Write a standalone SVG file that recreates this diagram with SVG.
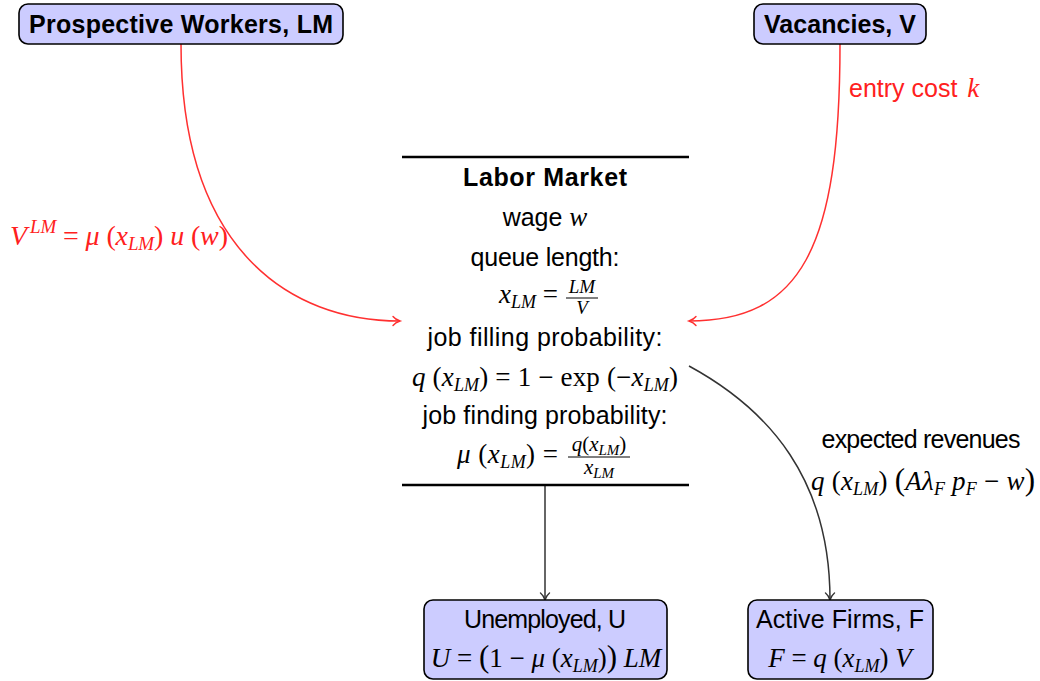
<svg xmlns="http://www.w3.org/2000/svg" width="1040" height="681" viewBox="0 0 1040 681">
<style>
.box{fill:#ccccff;stroke:#000;stroke-width:1.6}
.sans{font-family:"Liberation Sans","DejaVu Sans",sans-serif;font-size:25px}
.b{font-weight:bold}
.mi{font-family:"Liberation Serif","DejaVu Serif",serif;font-style:italic;font-size:27px}
.mr{font-family:"Liberation Serif","DejaVu Serif",serif;font-style:normal;font-size:27px}
.sub{font-size:18px}
.fr{font-size:19px}
.frs{font-size:14px}
.fr2{font-size:21px}
.frs2{font-size:15px}
.red{fill:#ff2020}
.c{text-anchor:middle}
.rule{stroke:#000;stroke-width:2.6}
.redc{fill:none;stroke:#ff3030;stroke-width:1.5}
.blkc{fill:none;stroke:#333;stroke-width:1.5}
</style>
<defs>
<marker id="ar" markerUnits="userSpaceOnUse" markerWidth="14" markerHeight="14" viewBox="-10 -7 14 14" refX="0" refY="0" orient="auto">
<path d="M-7,-4.5 C-5,-2 -1.5,-0.5 0,0 C-1.5,0.5 -5,2 -7,4.5" fill="none" stroke="#ff3030" stroke-width="1.4" stroke-linecap="round"/>
</marker>
<marker id="ak" markerUnits="userSpaceOnUse" markerWidth="14" markerHeight="14" viewBox="-10 -7 14 14" refX="0" refY="0" orient="auto">
<path d="M-7,-4.5 C-5,-2 -1.5,-0.5 0,0 C-1.5,0.5 -5,2 -7,4.5" fill="none" stroke="#333" stroke-width="1.4" stroke-linecap="round"/>
</marker>
</defs>
<rect width="1040" height="681" fill="#fff"/>

<g id="connectors">
<path class="redc" d="M181,44 C181,250 290,321 400,321" marker-end="url(#ar)"/>
<path class="redc" d="M840,44 C840,250 800,321 689,321" marker-end="url(#ar)"/>
<path class="blkc" d="M689,366 C770,410 830,480 830,600" marker-end="url(#ak)"/>
<path class="blkc" d="M545,486 L545,600" marker-end="url(#ak)"/>
<text class="red" x="10" y="245" textLength="218"><tspan class="mi" style="font-size:28px">V</tspan><tspan class="mi" style="font-size:19px" dx="3" dy="-12">LM</tspan><tspan class="mr" style="font-size:28px" dy="12"> = </tspan><tspan class="mi" style="font-size:28px">μ</tspan><tspan class="mr" style="font-size:28px"> (</tspan><tspan class="mi" style="font-size:28px">x</tspan><tspan class="mi" style="font-size:19px" dy="5">LM</tspan><tspan class="mr" style="font-size:28px" dy="-5">) </tspan><tspan class="mi" style="font-size:28px">u</tspan><tspan class="mr" style="font-size:28px"> (</tspan><tspan class="mi" style="font-size:28px">w</tspan><tspan class="mr" style="font-size:28px">)</tspan></text>
<text class="red" x="849" y="97"><tspan class="sans">entry cost </tspan><tspan class="mi" dx="3">k</tspan></text>
<text class="sans c" x="921" y="448" textLength="199">expected revenues</text>
<text class="c" x="923" y="490" textLength="224"><tspan class="mi">q</tspan><tspan class="mr"> (</tspan><tspan class="mi">x</tspan><tspan class="mi sub" dy="5">LM</tspan><tspan class="mr" dy="-5">) </tspan><tspan class="mr" style="font-size:31px">(</tspan><tspan class="mi">Aλ</tspan><tspan class="mi sub" dy="5">F</tspan><tspan class="mi" dy="-5"> p</tspan><tspan class="mi sub" dy="5">F</tspan><tspan class="mr" dy="-5"> − </tspan><tspan class="mi">w</tspan><tspan class="mr" style="font-size:31px">)</tspan></text>
</g>

<g id="prospective-workers">
<rect class="box" x="19" y="4" width="324" height="40" rx="9"/>
<text class="sans b c" x="181" y="33" textLength="304">Prospective Workers, LM</text>
</g>

<g id="vacancies">
<rect class="box" x="754" y="4" width="172" height="40" rx="9"/>
<text class="sans b c" x="840" y="33" textLength="152">Vacancies, V</text>
</g>

<g id="labor-market">
<line class="rule" x1="402" y1="157" x2="689" y2="157"/>
<line class="rule" x1="402" y1="485" x2="689" y2="485"/>
<text class="sans b c" x="545" y="186" textLength="164">Labor Market</text>
<text class="c" x="545" y="226"><tspan class="sans">wage </tspan><tspan class="mi">w</tspan></text>
<text class="sans c" x="545" y="266" textLength="149">queue length:</text>
<text x="558" y="303" text-anchor="end"><tspan class="mi">x</tspan><tspan class="mi sub" dy="5">LM</tspan><tspan class="mr" dy="-5"> =</tspan></text>
<text class="mi fr c" x="582" y="293">LM</text>
<line x1="566" y1="298" x2="598" y2="298" stroke="#000" stroke-width="1"/>
<text class="mi fr c" x="582" y="314">V</text>
<text class="sans c" x="545" y="346" textLength="235">job filling probability:</text>
<text class="c" x="545" y="386" textLength="266"><tspan class="mi">q</tspan><tspan class="mr"> (</tspan><tspan class="mi">x</tspan><tspan class="mi sub" dy="5">LM</tspan><tspan class="mr" dy="-5">) = 1 − exp (−</tspan><tspan class="mi">x</tspan><tspan class="mi sub" dy="5">LM</tspan><tspan class="mr" dy="-5">)</tspan></text>
<text class="sans c" x="545" y="424" textLength="245">job finding probability:</text>
<text x="558" y="463" text-anchor="end" textLength="101"><tspan class="mi">μ</tspan><tspan class="mr"> (</tspan><tspan class="mi">x</tspan><tspan class="mi sub" dy="5">LM</tspan><tspan class="mr" dy="-5">) =</tspan></text>
<text class="c" x="599" y="451"><tspan class="mi fr2">q</tspan><tspan class="mr fr2">(</tspan><tspan class="mi fr2">x</tspan><tspan class="mi frs2" dy="4">LM</tspan><tspan class="mr fr2" dy="-4">)</tspan></text>
<line x1="568" y1="457" x2="630" y2="457" stroke="#000" stroke-width="1"/>
<text class="c" x="599" y="474"><tspan class="mi fr2">x</tspan><tspan class="mi frs2" dy="4">LM</tspan></text>
</g>

<g id="unemployed">
<rect class="box" x="424" y="600" width="243" height="79" rx="9"/>
<text class="sans c" x="545" y="628" textLength="162">Unemployed, U</text>
<text class="c" x="546" y="667"><tspan class="mi">U</tspan><tspan class="mr"> = </tspan><tspan class="mr" style="font-size:31px">(</tspan><tspan class="mr">1 − </tspan><tspan class="mi">μ</tspan><tspan class="mr"> (</tspan><tspan class="mi">x</tspan><tspan class="mi sub" dy="5">LM</tspan><tspan class="mr" dy="-5">)</tspan><tspan class="mr" style="font-size:31px">)</tspan><tspan class="mi"> LM</tspan></text>
</g>

<g id="active-firms">
<rect class="box" x="748" y="600" width="185" height="79" rx="9"/>
<text class="sans c" x="840" y="628" textLength="168">Active Firms, F</text>
<text class="c" x="840" y="667"><tspan class="mi">F</tspan><tspan class="mr"> = </tspan><tspan class="mi">q</tspan><tspan class="mr"> (</tspan><tspan class="mi">x</tspan><tspan class="mi sub" dy="5">LM</tspan><tspan class="mr" dy="-5">) </tspan><tspan class="mi">V</tspan></text>
</g>
</svg>
